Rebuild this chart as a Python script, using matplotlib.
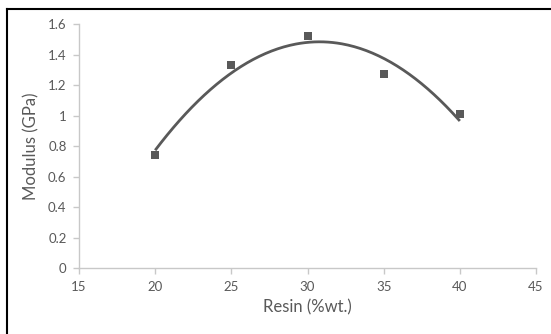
import matplotlib
matplotlib.use("Agg")
import matplotlib.pyplot as plt
import numpy as np
from matplotlib.lines import Line2D

# Data
resin = [20, 25, 30, 35, 40]
modulus = [0.74, 1.33, 1.52, 1.27, 1.01]

x_ticks = [15, 20, 25, 30, 35, 40, 45]
y_ticks = [0, 0.2, 0.4, 0.6, 0.8, 1.0, 1.2, 1.4, 1.6]
y_labels = ["0", "0.2", "0.4", "0.6", "0.8", "1", "1.2", "1.4", "1.6"]

plt.rcParams["font.family"] = ["Lato", "DejaVu Sans"]
text_col = "#595959"
axis_col = "#c8c8c8"

fig = plt.figure(figsize=(5.51, 3.34), dpi=100)
ax = fig.add_axes([0.1434, 0.1976, 0.8294, 0.7304])

# second order polynomial trendline (as Excel does)
coef = np.polyfit(resin, modulus, 2)
xs = np.linspace(min(resin), max(resin), 200)
ax.plot(xs, np.polyval(coef, xs), color=text_col, lw=2.0, solid_capstyle="butt")

ax.scatter(resin, modulus, marker="s", s=26, color=text_col, zorder=3, linewidths=0)

ax.set_xlim(15, 45)
ax.set_ylim(0, 1.6)
ax.set_xticks(x_ticks)
ax.set_yticks(y_ticks)
ax.set_yticklabels(y_labels)

for s in ["top", "right"]:
    ax.spines[s].set_visible(False)
for s in ["left", "bottom"]:
    ax.spines[s].set_color(axis_col)
    ax.spines[s].set_linewidth(1.0)

ax.tick_params(axis="both", colors=axis_col, labelcolor=text_col,
               labelsize=9.5, length=4, width=1.0, direction="out")
ax.tick_params(axis="x", pad=5)
ax.tick_params(axis="y", pad=5)

ax.set_xlabel("Resin (%wt.)", fontsize=12, color=text_col, labelpad=5)
ax.set_ylabel("Modulus (GPa)", fontsize=12, color=text_col, labelpad=6)

# chart area border (only top and left edges visible in the crop)
fig.add_artist(Line2D([7 / 551, 1.0], [1 - 9 / 334, 1 - 9 / 334],
                      transform=fig.transFigure, color="black", lw=1.5))
fig.add_artist(Line2D([7 / 551, 7 / 551], [0.0, 1 - 9 / 334],
                      transform=fig.transFigure, color="black", lw=1.5))

fig.savefig("out.png", dpi=100)
